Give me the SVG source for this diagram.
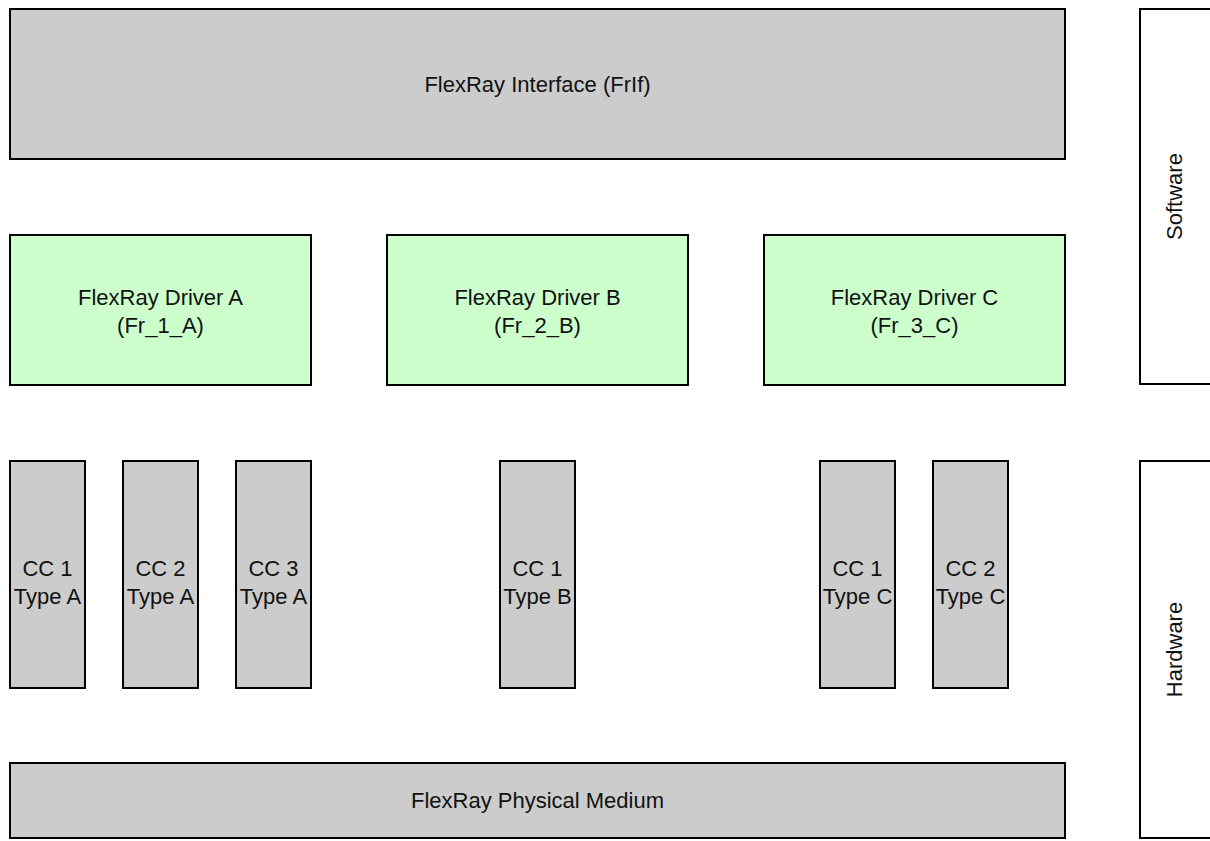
<svg xmlns="http://www.w3.org/2000/svg" width="1210" height="841" viewBox="0 0 1210 841">
<style>
.g{fill:#cccccc;stroke:#000;stroke-width:2}
.d{fill:#ccffcc;stroke:#000;stroke-width:2}
.w{fill:#ffffff;stroke:#000;stroke-width:2}
text{font-family:"Liberation Sans",Arial,sans-serif;font-size:22px;fill:#111;text-anchor:middle}
</style>
<rect width="1210" height="841" fill="#fff"/>
<g id="frif"><rect class="g" x="10" y="9" width="1055" height="150"/><text x="537.5" y="92">FlexRay Interface (FrIf)</text></g>
<g id="driverA"><rect class="d" x="10" y="235" width="301" height="150"/><text x="160.5" y="305">FlexRay Driver A</text><text x="160.5" y="333">(Fr_1_A)</text></g>
<g id="driverB"><rect class="d" x="387" y="235" width="301" height="150"/><text x="537.5" y="305">FlexRay Driver B</text><text x="537.5" y="333">(Fr_2_B)</text></g>
<g id="driverC"><rect class="d" x="764" y="235" width="301" height="150"/><text x="914.5" y="305">FlexRay Driver C</text><text x="914.5" y="333">(Fr_3_C)</text></g>
<g id="cc1A"><rect class="g" x="10" y="461" width="75" height="227"/><text x="47.5" y="576">CC 1</text><text x="47.5" y="604">Type A</text></g>
<g id="cc2A"><rect class="g" x="123" y="461" width="75" height="227"/><text x="160.5" y="576">CC 2</text><text x="160.5" y="604">Type A</text></g>
<g id="cc3A"><rect class="g" x="236" y="461" width="75" height="227"/><text x="273.5" y="576">CC 3</text><text x="273.5" y="604">Type A</text></g>
<g id="cc1B"><rect class="g" x="500" y="461" width="75" height="227"/><text x="537.5" y="576">CC 1</text><text x="537.5" y="604">Type B</text></g>
<g id="cc1C"><rect class="g" x="820" y="461" width="75" height="227"/><text x="857.5" y="576">CC 1</text><text x="857.5" y="604">Type C</text></g>
<g id="cc2C"><rect class="g" x="933" y="461" width="75" height="227"/><text x="970.5" y="576">CC 2</text><text x="970.5" y="604">Type C</text></g>
<g id="medium"><rect class="g" x="10" y="763" width="1055" height="75"/><text x="537.5" y="808">FlexRay Physical Medium</text></g>
<g id="software"><rect class="w" x="1140" y="9" width="120" height="375"/><text transform="translate(1182,196.5) rotate(-90)">Software</text></g>
<g id="hardware"><rect class="w" x="1140" y="461" width="120" height="377"/><text transform="translate(1182,649.5) rotate(-90)">Hardware</text></g>
<g id="connectors"></g>
</svg>
